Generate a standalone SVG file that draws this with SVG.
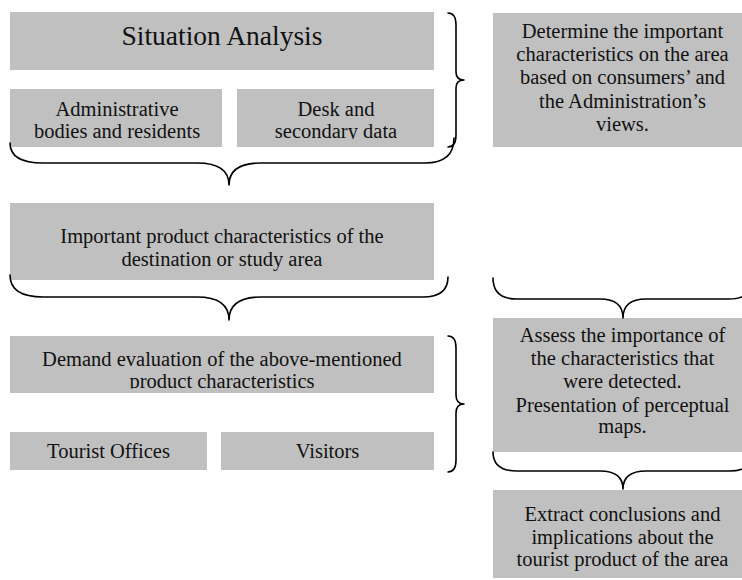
<svg xmlns="http://www.w3.org/2000/svg" width="742" height="580" viewBox="0 0 742 580">
<style>
.box{fill:#c0c0c0;stroke:none}
.t{font-family:'Liberation Serif','Times New Roman','DejaVu Serif',serif;font-size:20.5px;fill:#111;text-anchor:middle}
.big{font-size:27.5px}
.brace{fill:none;stroke:#000;stroke-width:1.6;stroke-linecap:round;stroke-linejoin:round}
</style>
<defs>
<clipPath id="clipTop"><rect x="0" y="80" width="440" height="59"/></clipPath>
<clipPath id="clipDemand"><rect x="0" y="330" width="440" height="58.5"/></clipPath>
</defs>
<rect width="742" height="580" fill="#fff"/>

<g id="situation-analysis">
<rect class="box" x="10" y="12" width="424" height="58"/>
<text class="t big" x="222" y="45">Situation Analysis</text>
</g>
<g id="administrative">
<rect class="box" x="10" y="89" width="212" height="58"/>
<text class="t" clip-path="url(#clipTop)"><tspan x="117" y="116">Administrative</tspan><tspan x="117" y="137.5">bodies and residents</tspan></text>
</g>
<g id="desk">
<rect class="box" x="237" y="89" width="197" height="58"/>
<text class="t" clip-path="url(#clipTop)"><tspan x="336" y="116">Desk and</tspan><tspan x="336" y="137.5">secondary data</tspan></text>
</g>
<g id="determine">
<rect class="box" x="493" y="13" width="260" height="134"/>
<text class="t"><tspan x="622.5" y="37.7">Determine the important</tspan><tspan x="622.5" y="61">characteristics on the area</tspan><tspan x="622.5" y="84.3">based on consumers’ and</tspan><tspan x="622.5" y="107.7">the Administration’s</tspan><tspan x="622.5" y="131">views.</tspan></text>
</g>
<g id="important">
<rect class="box" x="10" y="203" width="424" height="77"/>
<text class="t"><tspan x="222" y="243">Important product characteristics of the</tspan><tspan x="222" y="266">destination or study area</tspan></text>
</g>
<g id="demand">
<rect class="box" x="10" y="336" width="424" height="57"/>
<text class="t" clip-path="url(#clipDemand)"><tspan x="222" y="366">Demand evaluation of the above-mentioned</tspan><tspan x="222" y="387.5">product characteristics</tspan></text>
</g>
<g id="tourist-offices">
<rect class="box" x="10" y="432" width="197" height="38"/>
<text class="t" x="108.5" y="458">Tourist Offices</text>
</g>
<g id="visitors">
<rect class="box" x="221" y="432" width="213" height="38"/>
<text class="t" x="327.5" y="458">Visitors</text>
</g>
<g id="assess">
<rect class="box" x="493" y="318" width="260" height="134"/>
<text class="t"><tspan x="622.5" y="341.7">Assess the importance of</tspan><tspan x="622.5" y="365">the characteristics that</tspan><tspan x="622.5" y="388.3">were detected.</tspan><tspan x="622.5" y="411.7">Presentation of perceptual</tspan><tspan x="622.5" y="433.3">maps.</tspan></text>
</g>
<g id="extract">
<rect class="box" x="493" y="490" width="260" height="88"/>
<text class="t"><tspan x="622.5" y="521">Extract conclusions and</tspan><tspan x="622.5" y="543.5">implications about the</tspan><tspan x="622.5" y="566">tourist product of the area</tspan></text>
</g>

<g id="connectors">
<path class="brace" d="M448,13 Q456,13 456,25 L456,72 Q456,80 464,80 Q456,80 456,88 L456,135 Q456,147 448,147"/>
<path class="brace" d="M10,143 Q10,163 43,163 L197,163 Q229,163 229,185 Q229,163 261,163 L425,163 Q454,163 454,138"/>
<path class="brace" d="M10,275 Q10,297 43,297 L197,297 Q229,297 229,320 Q229,297 261,297 L423,297 Q448,297 448,277"/>
<path class="brace" d="M448,336 Q456,336 456,348 L456,395 Q456,404 464,404 Q456,404 456,413 L456,460 Q456,472 448,472"/>
<path class="brace" d="M493,278 Q493,299 517,299 L600,299 Q623,299 623,318 Q623,299 646,299 L729,299 Q753,299 753,278"/>
<path class="brace" d="M493,452 Q493,471 517,471 L600,471 Q623,471 623,489 Q623,471 646,471 L729,471 Q753,471 753,452"/>
</g>
</svg>
